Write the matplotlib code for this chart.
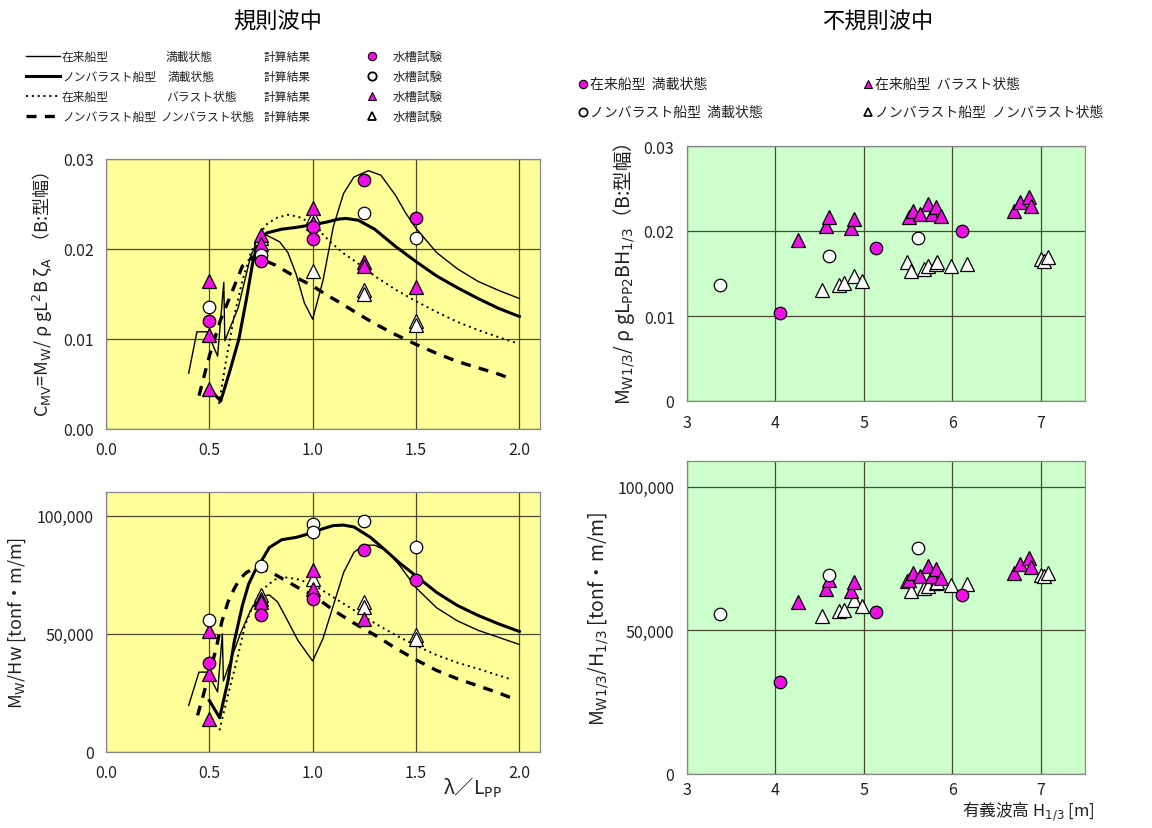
import numpy as np
import matplotlib
matplotlib.use("Agg")
import matplotlib.pyplot as plt
from matplotlib.ticker import FuncFormatter

plt.rcParams['font.family'] = ['Noto Sans CJK JP', 'DejaVu Sans']
plt.rcParams['mathtext.fontset'] = 'dejavusans'

# ---------------- 規則波中 : C_MV (calc curves) ----------------
cmv_conv_full_x = [0.40, 0.44, 0.49, 0.54, 0.57, 0.575, 0.64, 0.70, 0.745, 0.78, 0.84, 0.88, 0.92, 0.96, 1.0,
                   1.05, 1.10, 1.15, 1.20, 1.27, 1.33, 1.40, 1.45, 1.50, 1.60, 1.70, 1.80, 1.90, 2.0]
cmv_conv_full_y = [0.0062, 0.0108, 0.0108, 0.0081, 0.0163, 0.0098, 0.0135, 0.0192, 0.0216, 0.0215, 0.0208,
                   0.0196, 0.0172, 0.0140, 0.0122, 0.0165, 0.0225, 0.0262, 0.0280, 0.0287, 0.0282, 0.0260,
                   0.0240, 0.0223, 0.0196, 0.0178, 0.0164, 0.0154, 0.0145]

cmv_nb_full_x = [0.50, 0.555, 0.60, 0.643, 0.68, 0.71, 0.74, 0.78, 0.85, 0.92, 1.0, 1.07, 1.12, 1.16,
                 1.22, 1.30, 1.40, 1.50, 1.60, 1.70, 1.80, 1.90, 2.0]
cmv_nb_full_y = [0.0045, 0.0031, 0.0065, 0.0100, 0.0145, 0.0185, 0.0212, 0.0218, 0.0222, 0.0224, 0.0227,
                 0.0230, 0.0233, 0.0234, 0.0232, 0.0222, 0.0203, 0.0186, 0.0170, 0.0157, 0.0145, 0.0134,
                 0.0125]

cmv_conv_bal_x = [0.547, 0.58, 0.62, 0.66, 0.70, 0.74, 0.78, 0.83, 0.88, 0.93, 1.0, 1.08, 1.15, 1.22,
                  1.30, 1.40, 1.50, 1.60, 1.70, 1.80, 1.90, 1.98]
cmv_conv_bal_y = [0.0028, 0.0075, 0.0125, 0.0165, 0.0195, 0.0216, 0.0228, 0.0235, 0.0238, 0.0236, 0.0228,
                  0.0209, 0.0195, 0.0184, 0.0170, 0.0155, 0.0142, 0.0130, 0.0119, 0.0110, 0.0102, 0.0096]

cmv_nb_bal_x = [0.45, 0.50, 0.555, 0.595, 0.66, 0.71, 0.76, 0.82, 0.88, 0.94, 1.0, 1.06, 1.12, 1.22,
                1.30, 1.40, 1.50, 1.60, 1.70, 1.80, 1.90, 1.97]
cmv_nb_bal_y = [0.0037, 0.0081, 0.0122, 0.0144, 0.0181, 0.0191, 0.0188, 0.0182, 0.0174, 0.0166, 0.0159,
                0.0150, 0.0142, 0.0128, 0.0117, 0.0105, 0.0094, 0.0084, 0.0075, 0.0068, 0.0061, 0.0055]

# 水槽試験 (regular waves, C_MV)
cmv_exp_conv_full_x = [0.5, 0.75, 1.0, 1.0, 1.25, 1.5]
cmv_exp_conv_full_y = [0.0120, 0.0187, 0.0224, 0.0211, 0.0277, 0.0235]
cmv_exp_nb_full_x = [0.5, 0.75, 1.25, 1.5]
cmv_exp_nb_full_y = [0.0136, 0.0193, 0.0240, 0.0212]
cmv_exp_conv_bal_x = [0.5, 0.5, 0.5, 0.75, 0.75, 1.0, 1.0, 1.25, 1.25, 1.5]
cmv_exp_conv_bal_y = [0.0165, 0.0105, 0.0044, 0.0216, 0.0206, 0.0246, 0.0229, 0.0186, 0.0181, 0.0158]
cmv_exp_nb_bal_x = [0.75, 1.0, 1.0, 1.25, 1.25, 1.5, 1.5]
cmv_exp_nb_bal_y = [0.0212, 0.0236, 0.0176, 0.0155, 0.0150, 0.0120, 0.0116]

# ---------------- 規則波中 : Mw/Hw (calc curves) ----------------
mh_conv_full_x = [0.40, 0.45, 0.49, 0.54, 0.563, 0.568, 0.60, 0.65, 0.70, 0.74, 0.79, 0.83, 0.87, 0.93,
                  1.0, 1.05, 1.10, 1.15, 1.20, 1.25, 1.30, 1.36, 1.42, 1.50, 1.60, 1.70, 1.80, 1.90, 2.0]
mh_conv_full_y = [19700, 33800, 33800, 25400, 50000, 30000, 38000, 50000, 60000, 65500, 66500, 63500,
                  57000, 47000, 38500, 48000, 62000, 76000, 84500, 87500, 87500, 85000, 79000, 69500,
                  61000, 55500, 51500, 48500, 45500]

mh_nb_full_x = [0.50, 0.55, 0.59, 0.62, 0.66, 0.69, 0.72, 0.75, 0.79, 0.85, 0.92, 1.0, 1.05, 1.10, 1.15,
                1.20, 1.28, 1.35, 1.42, 1.50, 1.60, 1.70, 1.80, 1.90, 2.0]
mh_nb_full_y = [21800, 14500, 30000, 46500, 62000, 71000, 76500, 80500, 86500, 89800, 90800, 92800,
                94500, 95800, 96000, 95200, 90800, 85500, 80000, 74500, 67500, 62000, 57800, 54200, 51000]

mh_conv_bal_x = [0.549, 0.59, 0.623, 0.65, 0.672, 0.70, 0.737, 0.78, 0.835, 0.88, 0.93, 1.0, 1.10, 1.20,
                 1.30, 1.40, 1.50, 1.60, 1.70, 1.80, 1.95]
mh_conv_bal_y = [9200, 24000, 35200, 45000, 53500, 59500, 66200, 70500, 74000, 73800, 73000, 71000,
                 65500, 60000, 54500, 49500, 45000, 41000, 37800, 35200, 31000]

mh_nb_bal_x = [0.443, 0.49, 0.533, 0.56, 0.59, 0.62, 0.647, 0.68, 0.72, 0.76, 0.80, 0.87, 0.94, 1.0,
               1.10, 1.20, 1.30, 1.40, 1.50, 1.60, 1.70, 1.80, 1.90, 1.975]
mh_nb_bal_y = [15500, 30000, 43700, 55000, 63400, 69000, 73200, 76000, 77800, 77500, 76000, 72500,
               69000, 66500, 60000, 54500, 49500, 44000, 39000, 34500, 31000, 28000, 25000, 22400]

mh_exp_conv_full_x = [0.5, 0.75, 1.0, 1.25, 1.5]
mh_exp_conv_full_y = [37500, 58100, 64900, 85400, 72700]
mh_exp_nb_full_x = [0.5, 0.75, 1.0, 1.0, 1.25, 1.5]
mh_exp_nb_full_y = [55700, 78700, 96300, 93200, 97700, 86800]
mh_exp_conv_bal_x = [0.5, 0.5, 0.5, 0.75, 0.75, 1.0, 1.0, 1.25]
mh_exp_conv_bal_y = [51400, 33000, 13900, 64900, 63500, 76900, 69000, 56400]
mh_exp_nb_bal_x = [0.75, 1.0, 1.25, 1.25, 1.5, 1.5]
mh_exp_nb_bal_y = [66300, 73400, 63500, 61300, 49300, 47900]

# ---------------- 不規則波中 ----------------
irr_conv_full_h = [4.05, 5.14, 6.11]
irr_conv_full_c = [0.0103, 0.0180, 0.0200]
irr_conv_full_m = [32200, 56400, 62400]

irr_nb_full_h = [3.37, 4.60, 5.61]
irr_nb_full_c = [0.0136, 0.0171, 0.0192]
irr_nb_full_m = [55800, 69400, 78700]

irr_conv_bal_h = [4.26, 4.57, 4.60, 4.85, 4.89, 5.51, 5.55, 5.64, 5.72, 5.77, 5.81, 5.87, 6.70, 6.77, 6.87, 6.89]
irr_conv_bal_c = [0.0190, 0.0206, 0.0216, 0.0204, 0.0214, 0.0216, 0.0224, 0.0220, 0.0232, 0.0220, 0.0228,
                  0.0218, 0.0224, 0.0234, 0.0240, 0.0230]
irr_conv_bal_m = [59800, 64500, 67600, 63900, 67000, 67600, 70100, 68900, 72600, 68900, 71400, 68200,
                  70100, 73200, 75100, 72000]

irr_nb_bal_h = [4.53, 4.72, 4.77, 4.89, 4.98, 5.49, 5.53, 5.68, 5.72, 5.81, 5.83, 5.98, 6.17, 7.00, 7.04, 7.08]
irr_nb_bal_c = [0.0131, 0.0137, 0.0139, 0.0147, 0.0141, 0.0163, 0.0153, 0.0155, 0.0159, 0.0161, 0.0163,
                0.0159, 0.0161, 0.0167, 0.0165, 0.0169]
irr_nb_bal_m = [54900, 56600, 57200, 60700, 58600, 67100, 63600, 64800, 65300, 66500, 67000, 65900,
                66300, 69400, 68800, 70000]

MAG = '#EC10E4'
YEL = '#FFFF99'
GRN = '#CCFFCC'
GRID = '#4a4a30'
TXT = '#222222'

thin = dict(color='k', lw=1.0)
thick = dict(color='k', lw=2.2)
dotted = dict(color='k', lw=1.4, ls=(0, (1, 2)))
dashed = dict(color='k', lw=2.4, ls=(0, (3, 2.5)))

circ_m = dict(ls='none', marker='o', ms=9, mfc=MAG, mec='k', mew=0.9)
circ_w = dict(ls='none', marker='o', ms=9, mfc='white', mec='k', mew=0.9)
tri_m = dict(ls='none', marker='^', ms=10.5, mfc=MAG, mec='k', mew=0.9)
tri_w = dict(ls='none', marker='^', ms=10.5, mfc='white', mec='k', mew=0.9)

W, H = 1152, 829
fig = plt.figure(figsize=(W / 100, H / 100), dpi=100)


def px_axes(l, t, r, b):
    return fig.add_axes([l / W, 1 - b / H, (r - l) / W, (b - t) / H])


def style(ax, bg):
    ax.set_facecolor(bg)
    ax.grid(True, color=GRID, lw=0.9)
    ax.set_axisbelow(True)
    for s in ax.spines.values():
        s.set_color('#888888')
        s.set_linewidth(0.9)
    ax.tick_params(length=0, pad=9, labelsize=11.5, labelcolor=TXT)


# --- top-left
ax1 = px_axes(106, 160, 540, 430)
style(ax1, YEL)
ax1.plot(cmv_conv_full_x, cmv_conv_full_y, **thin)
ax1.plot(cmv_nb_full_x, cmv_nb_full_y, **thick)
ax1.plot(cmv_conv_bal_x, cmv_conv_bal_y, **dotted)
ax1.plot(cmv_nb_bal_x, cmv_nb_bal_y, **dashed)
ax1.plot(cmv_exp_nb_bal_x, cmv_exp_nb_bal_y, **tri_w)
ax1.plot(cmv_exp_conv_bal_x, cmv_exp_conv_bal_y, **tri_m)
ax1.plot(cmv_exp_nb_full_x, cmv_exp_nb_full_y, **circ_w)
ax1.plot(cmv_exp_conv_full_x, cmv_exp_conv_full_y, **circ_m)
ax1.set_xlim(0, 2.1)
ax1.set_ylim(0, 0.03)
ax1.set_xticks([0.0, 0.5, 1.0, 1.5, 2.0])
ax1.set_yticks([0.0, 0.01, 0.02, 0.03])
ax1.xaxis.set_major_formatter(FuncFormatter(lambda v, p: f"{v:.1f}"))
ax1.yaxis.set_major_formatter(FuncFormatter(lambda v, p: f"{v:.2f}"))
ax1.set_ylabel(r"C$_{\mathrm{MV}}$=M$_{\mathrm{W}}$/ ρ gL$^{2}$B ζ$_{\mathrm{A}}$  （B:型幅）",
               fontsize=13, color=TXT, labelpad=6)

# --- bottom-left
ax2 = px_axes(106, 493, 540, 753)
style(ax2, YEL)
ax2.plot(mh_conv_full_x, mh_conv_full_y, **thin)
ax2.plot(mh_nb_full_x, mh_nb_full_y, **thick)
ax2.plot(mh_conv_bal_x, mh_conv_bal_y, **dotted)
ax2.plot(mh_nb_bal_x, mh_nb_bal_y, **dashed)
ax2.plot(mh_exp_nb_bal_x, mh_exp_nb_bal_y, **tri_w)
ax2.plot(mh_exp_conv_bal_x, mh_exp_conv_bal_y, **tri_m)
ax2.plot(mh_exp_nb_full_x, mh_exp_nb_full_y, **circ_w)
ax2.plot(mh_exp_conv_full_x, mh_exp_conv_full_y, **circ_m)
ax2.set_xlim(0, 2.1)
ax2.set_ylim(0, 110000)
ax2.set_xticks([0.0, 0.5, 1.0, 1.5, 2.0])
ax2.set_yticks([0, 50000, 100000])
ax2.xaxis.set_major_formatter(FuncFormatter(lambda v, p: f"{v:.1f}"))
ax2.yaxis.set_major_formatter(FuncFormatter(lambda v, p: f"{v:,.0f}"))
ax2.set_ylabel(r"M$_{\mathrm{W}}$/Hw [tonf・m/m]", fontsize=13, color=TXT, labelpad=6)
fig.text(472 / W, 1 - 788 / H, r"λ／L$_{\mathrm{PP}}$", fontsize=14, color=TXT,
         ha='center', va='center')

# --- top-right
ax3 = px_axes(687, 147, 1085, 402)
style(ax3, GRN)
ax3.plot(irr_nb_bal_h, irr_nb_bal_c, **tri_w)
ax3.plot(irr_conv_bal_h, irr_conv_bal_c, **tri_m)
ax3.plot(irr_nb_full_h, irr_nb_full_c, **circ_w)
ax3.plot(irr_conv_full_h, irr_conv_full_c, **circ_m)
ax3.set_xlim(3, 7.5)
ax3.set_ylim(0, 0.03)
ax3.set_xticks([3, 4, 5, 6, 7])
ax3.set_yticks([0, 0.01, 0.02, 0.03])
ax3.yaxis.set_major_formatter(FuncFormatter(lambda v, p: "0" if v == 0 else f"{v:.2f}"))
ax3.set_ylabel(r"M$_{\mathrm{W1/3}}$/ ρ gL$_{\mathrm{PP2}}$BH$_{\mathrm{1/3}}$（B:型幅）",
               fontsize=14, color=TXT, labelpad=5)

# --- bottom-right
ax4 = px_axes(687, 462, 1085, 775)
style(ax4, GRN)
ax4.tick_params(axis='x', pad=5)
ax4.plot(irr_nb_bal_h, irr_nb_bal_m, **tri_w)
ax4.plot(irr_conv_bal_h, irr_conv_bal_m, **tri_m)
ax4.plot(irr_nb_full_h, irr_nb_full_m, **circ_w)
ax4.plot(irr_conv_full_h, irr_conv_full_m, **circ_m)
ax4.set_xlim(3, 7.5)
ax4.set_ylim(0, 109000)
ax4.set_xticks([3, 4, 5, 6, 7])
ax4.set_yticks([0, 50000, 100000])
ax4.yaxis.set_major_formatter(FuncFormatter(lambda v, p: f"{v:,.0f}"))
ax4.set_ylabel(r"M$_{\mathrm{W1/3}}$/H$_{\mathrm{1/3}}$ [tonf・m/m]", fontsize=14, color=TXT, labelpad=5)
fig.text(1028 / W, 1 - 811 / H, r"有義波高 H$_{\mathrm{1/3}}$ [m]", fontsize=12, color=TXT,
         ha='center', va='center')

# titles
fig.text(278 / W, 1 - 22 / H, "規則波中", fontsize=16, ha='center', va='center')
fig.text(878 / W, 1 - 22 / H, "不規則波中", fontsize=16, ha='center', va='center')

# legends drawn on an overlay in pixel units
lg = fig.add_axes([0, 0, 1, 1], facecolor='none')
lg.set_xlim(0, W)
lg.set_ylim(H, 0)
lg.axis('off')

rows_y = [57, 77, 97, 117]
line_styles = [thin, thick, dotted, dashed]
ship_lbl = ["在来船型", "ノンバラスト船型", "在来船型", "ノンバラスト船型"]
cond_lbl = ["満載状態", "満載状態", "バラスト状態", "ノンバラスト状態"]
cond_x = [166, 168, 166, 160]
exp_markers = [circ_m, circ_w, tri_m, tri_w]
for yy, st, s1, s2, cx, mk in zip(rows_y, line_styles, ship_lbl, cond_lbl, cond_x, exp_markers):
    lg.plot([26, 60], [yy, yy], **st)
    lg.text(62, yy, s1, fontsize=8.5, color=TXT, va='center')
    lg.text(cx, yy, s2, fontsize=8.5, color=TXT, va='center')
    lg.text(264, yy, "計算結果", fontsize=8.5, color=TXT, va='center')
    mk2 = dict(mk)
    mk2['ms'] = 6
    mk2['mew'] = 1.3 if mk['mfc'] == 'white' else 0.8
    lg.plot([372], [yy], **mk2)
    lg.text(393, yy, "水槽試験", fontsize=9, color=TXT, va='center')

right_leg = [(583, 85, circ_m, "在来船型  満載状態"),
             (583, 113, circ_w, "ノンバラスト船型  満載状態"),
             (868, 85, tri_m, "在来船型  バラスト状態"),
             (868, 113, tri_w, "ノンバラスト船型  ノンバラスト状態")]
for xx, yy, mk, s in right_leg:
    mk2 = dict(mk)
    mk2['ms'] = 6
    mk2['mew'] = 1.2 if mk['mfc'] == 'white' else 0.8
    lg.plot([xx], [yy], **mk2)
    lg.text(xx + 7, yy, s, fontsize=10, color=TXT, va='center')

fig.savefig("out.png", dpi=100)
